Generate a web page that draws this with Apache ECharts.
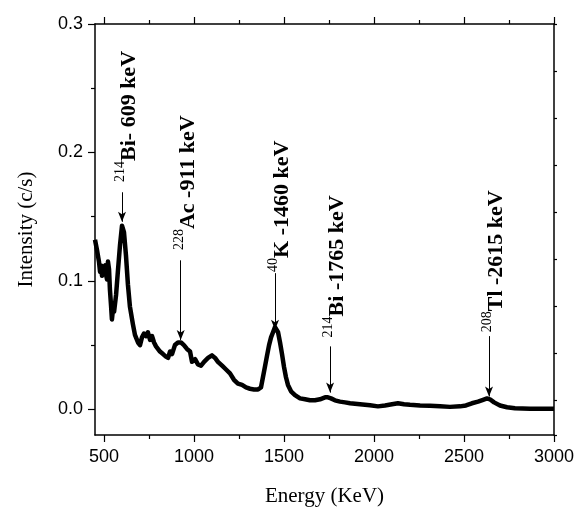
<!DOCTYPE html>
<html>
<head>
<meta charset="utf-8">
<script src="https://cdn.jsdelivr.net/npm/echarts@6/dist/echarts.min.js"></script>
<style>
  html, body { margin: 0; padding: 0; background: #fff; }
  #chart { width: 583px; height: 509px; }
</style>
</head>
<body>
<div id="chart"></div>
<script>
// gamma spectrum
const energy = [
  450, 461, 472, 478, 483, 489, 494, 506, 511, 517,
  522, 528, 533, 539, 544, 550, 556, 567, 578, 589,
  600, 606, 611, 622, 633, 644, 656, 661, 672, 689,
  700, 711, 722, 733, 744, 756, 767, 778, 789, 800,
  811, 828, 844, 856, 867, 878, 894, 911, 928, 944,
  961, 978, 989, 1006, 1022, 1039, 1056, 1078, 1100, 1117,
  1133, 1156, 1178, 1200, 1222, 1244, 1267, 1289, 1311, 1333,
  1356, 1372, 1383, 1394, 1406, 1417, 1428, 1439, 1450, 1456,
  1467, 1478, 1489, 1500, 1511, 1522, 1539, 1561, 1589, 1617,
  1644, 1672, 1700, 1728, 1744, 1761, 1783, 1811, 1839, 1867,
  1922, 1978, 2022, 2061, 2100, 2133, 2167, 2200, 2256, 2311,
  2367, 2422, 2478, 2511, 2544, 2578, 2606, 2628, 2644, 2667,
  2700, 2739, 2783, 2867, 2950, 3000
];
const intensity = [
  0.132, 0.124, 0.115, 0.107, 0.112, 0.104, 0.110, 0.112, 0.105, 0.101,
  0.115, 0.109, 0.093, 0.081, 0.070, 0.078, 0.076, 0.089, 0.109, 0.128,
  0.143, 0.144, 0.138, 0.120, 0.097, 0.080, 0.070, 0.066, 0.058, 0.052,
  0.050, 0.056, 0.059, 0.057, 0.060, 0.054, 0.057, 0.052, 0.049, 0.050,
  0.045, 0.043, 0.041, 0.040, 0.045, 0.043, 0.050, 0.052, 0.052, 0.050,
  0.047, 0.045, 0.037, 0.039, 0.035, 0.034, 0.037, 0.040, 0.042, 0.040,
  0.037, 0.034, 0.031, 0.028, 0.023, 0.020, 0.019, 0.017, 0.016, 0.0155,
  0.0155, 0.017, 0.025, 0.033, 0.042, 0.050, 0.056, 0.060, 0.064, 0.064,
  0.060, 0.052, 0.043, 0.033, 0.025, 0.019, 0.014, 0.011, 0.0085, 0.0078,
  0.007, 0.007, 0.0078, 0.0093, 0.0093, 0.0085, 0.007, 0.006, 0.0054, 0.0047,
  0.0039, 0.0031, 0.0023, 0.003, 0.0039, 0.0047, 0.0039, 0.0035, 0.003, 0.0027,
  0.0023, 0.0019, 0.0023, 0.003, 0.0047, 0.006, 0.0074, 0.0085, 0.0078, 0.0054,
  0.003, 0.0016, 0.0008, 0.0004, 0.0004, 0.0004
];

const xTicks = [500, 1000, 1500, 2000, 2500, 3000];
const xMinorTicks = [750, 1250, 1750, 2250, 2750];
const yTicks = [0, 0.1, 0.2, 0.3];
const yMinorTicks = [0.05, 0.15, 0.25];

// peak annotations
const peakIsotopes = ['214', '228', '40', '214', '208'];
const peakNames = ['Bi- 609 keV', 'Ac -911 keV', 'K -1460 keV', 'Bi -1765 keV', 'Tl -2615 keV'];
const peakEnergy = [600, 926, 1450, 1756, 2639];
const arrowFrom = [0.169, 0.116, 0.106, 0.049, 0.057];
const arrowTo = [0.146, 0.054, 0.062, 0.013, 0.010];
const labelFrom = [0.177, 0.124, 0.107, 0.056, 0.060];

const sans = 'Liberation Sans';
const serif = 'Liberation Serif';
const X_MIN = 450, X_MAX = 3000, Y_MIN = -0.02, Y_MAX = 0.3;

function tickAxis(pos, values, len, showLine) {
    return {
        type: 'value', position: pos, min: X_MIN, max: X_MAX,
        axisLine: { show: showLine, onZero: false, lineStyle: { color: '#000', width: 1.5 } },
        axisTick: { show: true, inside: false, length: len, customValues: values, lineStyle: { color: '#000', width: 1.2 } },
        axisLabel: { show: false },
        splitLine: { show: false }
    };
}

function tickYAxis(pos, values, len) {
    return {
        type: 'value', position: pos, min: Y_MIN, max: Y_MAX,
        axisLine: { show: false, onZero: false },
        axisTick: { show: true, inside: false, length: len, customValues: values, lineStyle: { color: '#000', width: 1.2 } },
        axisLabel: { show: false },
        splitLine: { show: false }
    };
}

const chart = echarts.init(document.getElementById('chart'));

const pts = energy.map((e, i) => [e, intensity[i]]);
const arrows = peakEnergy.map((e, i) => [
    { coord: [e, arrowFrom[i]] },
    { coord: [e, arrowTo[i]] }
]);

chart.setOption({
    animation: false,
    backgroundColor: '#fff',
    grid: { left: 95, right: 29, top: 24, bottom: 74, outerBoundsMode: 'none' },
    xAxis: [
        {
            type: 'value', position: 'bottom', min: X_MIN, max: X_MAX,
            name: 'Energy (KeV)', nameLocation: 'middle', nameGap: 51,
            nameTextStyle: { fontFamily: serif, fontSize: 21, color: '#000' },
            axisLine: { show: true, onZero: false, lineStyle: { color: '#000', width: 1.5 } },
            axisTick: { show: true, inside: false, length: 7, customValues: xTicks, lineStyle: { color: '#000', width: 1.2 } },
            axisLabel: { show: true, customValues: xTicks, margin: 13, fontFamily: sans, fontSize: 18, color: '#000',
                formatter: v => String(v) },
            splitLine: { show: false }
        },
        tickAxis('bottom', xMinorTicks, 4, false),
        tickAxis('top', xTicks, 7, true),
        tickAxis('top', xMinorTicks, 4, false)
    ],
    yAxis: [
        {
            type: 'value', position: 'left', min: Y_MIN, max: Y_MAX,
            name: 'Intensity (c/s)', nameLocation: 'middle', nameGap: 58,
            nameTextStyle: { fontFamily: serif, fontSize: 21, color: '#000' },
            axisLine: { show: true, onZero: false, lineStyle: { color: '#000', width: 1.5 } },
            axisTick: { show: true, inside: false, length: 7, customValues: yTicks, lineStyle: { color: '#000', width: 1.2 } },
            axisLabel: { show: true, customValues: yTicks, margin: 12, fontFamily: sans, fontSize: 18, color: '#000',
                formatter: v => v.toFixed(1) },
            splitLine: { show: false }
        },
        tickYAxis('left', yMinorTicks, 4),
        {
            // right frame, its own small ticks from the top down
            type: 'value', position: 'right', min: 0, max: 8.75, interval: 1, inverse: true,
            axisLine: { show: true, onZero: false, lineStyle: { color: '#000', width: 1.5 } },
            axisTick: { show: true, inside: false, length: 3, lineStyle: { color: '#000', width: 1.2 } },
            axisLabel: { show: false },
            splitLine: { show: false }
        }
    ],
    series: [{
        type: 'line',
        data: pts,
        showSymbol: false,
        symbol: 'none',
        lineStyle: { color: '#000', width: 4.5, join: 'round' },
        markLine: {
            silent: true,
            symbol: ['none', 'arrow'],
            symbolSize: [6, 10],
            label: { show: false },
            lineStyle: { color: '#000', width: 1, type: 'solid' },
            data: arrows
        }
    }]
});

// rotated peak labels, placed with the chart's own scales
const labels = peakEnergy.map((e, i) => {
    const p = chart.convertToPixel({ xAxisIndex: 0, yAxisIndex: 0 }, [e, labelFrom[i]]);
    return {
        type: 'text',
        x: p[0] + 5,
        y: p[1],
        rotation: Math.PI / 2,
        silent: true,
        style: {
            text: '{sup|' + peakIsotopes[i] + '}{main|' + peakNames[i] + '}',
            textAlign: 'left',
            textVerticalAlign: 'middle',
            fill: '#000',
            rich: {
                sup: { fontFamily: serif, fontSize: 14, lineHeight: 14, verticalAlign: 'top', fill: '#000' },
                main: { fontFamily: serif, fontSize: 22, fontWeight: 'bold', lineHeight: 27, verticalAlign: 'bottom', fill: '#000' }
            }
        }
    };
});
chart.setOption({ graphic: labels });
</script>
</body>
</html>
